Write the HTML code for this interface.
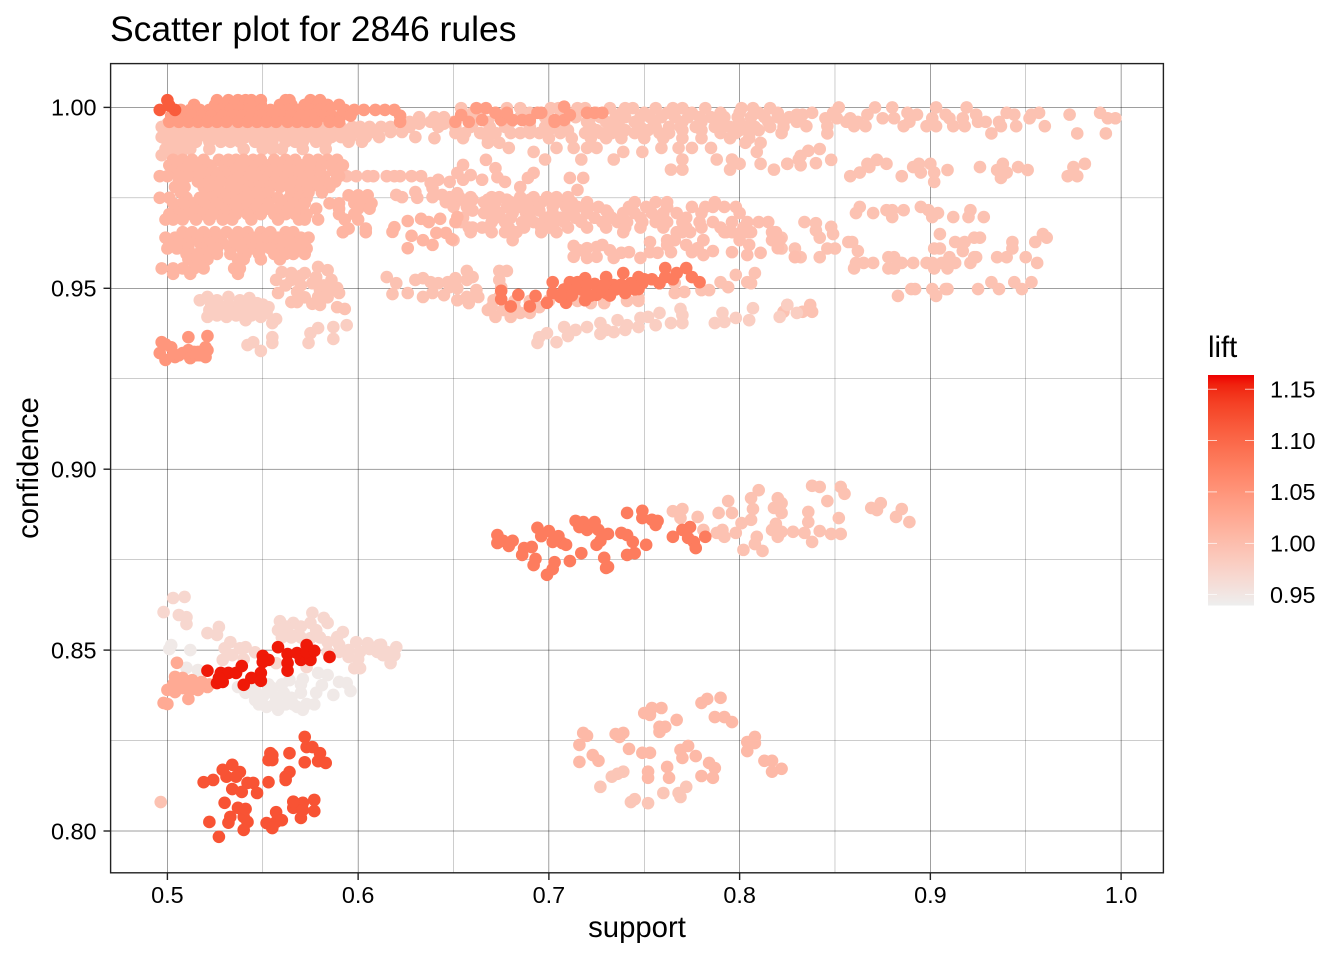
<!DOCTYPE html>
<html lang="en">
<head>
<meta charset="utf-8">
<title>Scatter plot for 2846 rules</title>
<style>
html,body{margin:0;padding:0;background:#fff;}
svg{display:block;font-family:"Liberation Sans",Arial,sans-serif;}
</style>
</head>
<body>
<svg id="chart" xmlns="http://www.w3.org/2000/svg" width="1344" height="960" viewBox="0 0 1344 960">
<rect width="1344" height="960" fill="#fff"/>
<g id="grid"></g>
<g id="points"></g>
<rect x="110.6" y="63.6" width="1052.8" height="809.2" fill="none" stroke="#222" stroke-width="1.4"/>
<g id="axes"></g>
<text x="110" y="41" font-size="35.5" fill="#000">Scatter plot for 2846 rules</text>
<text x="637" y="937" font-size="29.3" text-anchor="middle" fill="#000">support</text>
<text transform="translate(38,468) rotate(-90)" font-size="29.3" text-anchor="middle" fill="#000">confidence</text>
<g id="legend">
<text x="1208" y="357" font-size="29.3" fill="#000">lift</text>
</g>
</svg>
<script>
// Axis tick values
const xTicks = [0.5, 0.6, 0.7, 0.8, 0.9, 1.0];
const xMinorTicks = [0.55, 0.65, 0.75, 0.85, 0.95];
const yTicks = [0.80, 0.85, 0.90, 0.95, 1.00];
const yMinorTicks = [0.825, 0.875, 0.925, 0.975];
const liftTicks = [0.95, 1.00, 1.05, 1.10, 1.15];
const liftRange = [0.9393, 1.1636];

// Each row: [confidence, support, support, ...]
const topPaleRows = [
[.9955,.500,.632,.645,.660],
[.9946,.497,.502,.508,.512,.517,.522,.527,.532,.537,.542,.547,.552,.557,.562,.567,.572,.577,.582,.587,.591,.597,.601,.606,.612,.617],
[.9932,.499,.504,.509,.513,.519,.523,.529,.533,.539,.543,.549,.554,.559,.564,.569,.574,.579,.584,.589,.594,.599,.608,.617,.623],
[.9918,.497,.501,.506,.511,.516,.521,.526,.531,.536,.541,.546,.551,.556,.561,.566,.571,.576,.581,.586,.591,.596,.604,.611,.630],
[.9905,.500,.504,.510,.515,.522,.528,.533,.538,.546,.550,.555,.562,.567,.571,.578,.583,.595,.602],
[.9885,.499,.504,.508,.512,.522,.540,.550,.555,.560,.571,.583],
[.9868,.497,.503,.507],
[.9998,.654,.678,.685,.701,.705,.715,.719,.732,.740,.744,.756,.765,.770,.782,.801,.807,.816],
[.9985,.660,.672,.690,.710,.725,.738,.750,.762,.775,.790,.800,.810,.820],
[.9973,.632,.640,.645,.659,.664,.674,.685,.698,.706,.714,.722,.727,.735,.740,.748,.753,.759,.766,.773,.779,.785,.792,.799,.806,.813,.820,.826,.832],
[.996,.627,.638,.650,.668,.680,.690,.708,.720,.730,.745,.755,.770,.780,.790,.800,.815],
[.9946,.627,.642,.651,.659,.669,.677,.690,.698,.706,.722,.732,.737,.748,.756,.763,.769,.777,.787,.795,.803,.808,.816,.823],
[.9937,.700,.710,.725,.740,.752,.770,.780,.790,.800,.810],
[.9929,.651,.656,.664,.672,.680,.685,.690,.695,.706,.719,.727,.733,.745,.758,.763,.790,.798,.805,.822],
[.9915,.640,.655,.668,.700,.712,.722,.730,.738,.750,.760,.770,.780,.795,.805],
[.9902,.668,.674,.803,.811],
[.9888,.704,.713,.720,.725,.759,.775,.785,.768,.679],
[.9877,.692,.739,.749,.809],
[.9856,.698,.717,.734,.770,.788,.796,.831],
[.9844,.800,.811,.825],
[.9828,.764,.770,.795,.818],
[1.000,.852,.871,.880,.903,.919],
[.9985,.838,.849,.888,.940,.957,.989],
[.998,.830,.833,.867,.893,.908,.924,.944,.953,.973],
[.997,.845,.851,.858,.875,.881,.901,.910,.917,.952,.993,.997],
[.996,.823,.830,.856,.862,.889,.925,.929,.936],
[.9948,.835,.846,.860,.866,.886,.898,.903,.912,.918,.937,.945,.960],
[.9928,.846,.932,.977,.992],
[.9844,.825,.867,.877,.894,.900,.938,.981],
[.9866,.832],[.988,.836],[.9885,.842],[.984,.832],[.9846,.840],[.9855,.848,.872],
[.981,.858,.885,.972,.977],[.982,.863,.902,.895,.940],[.9835,.868,.891,.926,.946,.975],
[.9794,.902],[.9827,.909,.935,.951],[.9805,.937],
[.9725,.863,.895],[.9708,.861,.870,.904],[.9716,.877,.880,.886,.899,.921],[.9697,.880,.901,.912,.920,.928],
[.9683,.834],[.968,.840],[.967,.848],[.966,.840],[.965,.849,.905,.959],[.964,.842,.822,.923,.926,.961],
[.961,.822,.829,.902,.905,.846,.850,.943],[.9628,.857,.859,.913,.918,.955,.943],[.9603,.862,.917],
[.9586,.829,.832,.842,.878,.881,.910,.924,.923,.935,.940,.950],
[.957,.861,.865,.870,.885,.891,.898,.901,.906,.913,.921,.956],
[.9555,.860,.878,.881,.902,.909],
[.9479,.883,.903],[.9498,.890,.892,.901,.908,.909,.925,.936,.948],[.9517,.932,.944,.953],
[.9454,.825,.837],[.9435,.823,.833,.838]
];

const upperBandRows = [
[.9855,.503,.508,.513,.519,.527,.532,.536,.540,.545,.549,.556,.562,.567,.574,.579,.584,.589],
[.984,.501,.506,.511,.516,.522,.530,.534,.538,.543,.547,.552,.558,.564,.570,.576,.581,.586,.592],
[.9825,.503,.508,.513,.518,.524,.529,.535,.540,.545,.550,.555,.560,.565,.570,.575,.580,.587],
[.981,.496,.500,.506,.511,.516,.520,.526,.531,.538,.543,.548,.553,.558,.563,.569,.575,.582,.590],
[.9795,.506,.516,.522,.528,.534,.541,.546,.551,.556,.561,.566,.571,.577,.583,.588],
[.978,.504,.509,.519,.525,.533,.539,.543,.548,.554,.559,.564,.571,.575,.580,.585],
[.9765,.507,.521,.528,.535,.541,.547,.553,.565,.569,.574,.581],
[.975,.496,.501,.510,.517,.523,.530,.534,.540,.546,.551,.558,.564,.569,.573],
[.9735,.503,.508,.514,.519,.525,.531,.537,.543,.548,.553,.560,.566,.572],
[.972,.504,.509,.514,.522,.529,.535,.541,.546,.552,.558,.564,.570],
[.9705,.501,.506,.512,.518,.524,.530,.536,.542,.549,.556,.562,.567,.573,.590,.598],
[.969,.499,.503,.508,.515,.522,.529,.534,.544,.558,.569,.572,.579,.593,.600],
[.9655,.508,.513,.519,.525,.531,.537,.542,.549,.554,.562,.566,.592],
[.964,.499,.504,.509,.516,.522,.528,.535,.540,.546,.552,.558,.564,.570,.574],
[.9625,.501,.506,.511,.517,.523,.529,.535,.541,.547,.553,.559,.565,.571],
[.961,.500,.505,.511,.518,.526,.533,.539,.545,.549,.554,.560,.568,.573],
[.9595,.510,.516,.521,.526,.533,.541,.548,.556,.562,.566,.572],
[.958,.511,.516,.521,.537,.540,.549,.559],
[.9555,.497,.503,.508,.514,.519,.535,.538],
[.954,.503,.512,.537],
[.9757,.595,.600,.605],[.9735,.585,.590,.598,.603,.607],[.972,.578,.590,.600,.606],[.9665,.595,.604],[.9655,.592,.604],
[.9669,.619],[.9656,.618],[.9686,.626],[.9692,.633,.643],[.9683,.637,.651],[.9645,.628],[.9633,.634],[.9653,.641,.646],[.9636,.649],[.9611,.626],[.962,.639],[.9697,.652]
];

const midTailRows = [
[.981,.589,.594,.599,.605,.608,.615,.619,.622,.628,.633],
[.9758,.620,.644],[.9752,.623,.639],[.9766,.630],[.975,.631],[.9777,.639],[.98,.642],[.9791,.638],[.9744,.649],[.9763,.652],
[.9841,.655],[.9855,.667],[.9819,.652,.692],[.9813,.659],[.98,.655,.665],[.9794,.648,.677],[.9832,.672],[.9807,.673],[.9805,.689,.711,.718],[.978,.685],[.9772,.715],
[.9752,.648,.653,.659,.670,.674,.685,.692,.699,.704,.710],
[.9745,.650,.660,.668,.678,.690,.700,.710],
[.9738,.646,.651,.657,.666,.672,.680,.688,.696,.704,.712,.720,.745,.756,.762,.787],
[.9725,.650,.657,.671,.678,.685,.693,.702,.709,.715,.721,.726,.742,.751,.762,.775,.782,.786,.792,.798],
[.9715,.660,.670,.690,.695,.710,.720,.730],
[.9708,.666,.674,.681,.688,.702,.711,.720,.731,.739,.754,.767,.780,.800,.745,.760],
[.9695,.655,.672,.680,.690,.698,.706,.714,.724,.733,.748,.760,.772],
[.9683,.654,.652,.670,.677,.686,.692,.697,.703,.708,.717,.728,.736,.741,.749,.756,.762,.770,.779,.786,.796,.804,.810,.815],
[.9668,.658,.660,.665,.668,.679,.687,.696,.700,.710,.720,.730,.740,.748,.760,.772,.780,.790,.802],
[.9655,.659,.670,.677,.683,.696,.704,.739,.767,.774,.770,.792,.801,.804,.793,.796,.806,.819,.817],
[.9633,.650,.681,.762,.800,.781,.817,.821,.766],
[.9617,.713],[.9587,.713,.725],[.9611,.720,.778,.820],[.9584,.720,.734,.748],[.9614,.725],[.962,.728,.762,.772,.805],[.9598,.738,.757,.811],[.96,.742,.753,.775],
[.9628,.753],[.9633,.781],[.9592,.781,.804],[.9603,.786],[.9587,.829],[.9605,.716,.732],[.96,.764,.796]
];

const lowerBandRows = [
[.9531,.615,.660],[.9514,.620,.642],[.9484,.618],[.9487,.626,.639],[.9523,.630,.651,.657,.674],[.9528,.634,.651],[.9517,.638,.647],[.9476,.634,.657,.663,.674],[.9481,.645],[.9467,.652,.671],[.95,.652],
[.9548,.657,.674,.678],[.9503,.675,.648],[.9459,.658],[.9495,.662],[.944,.668,.676],[.9421,.672,.680],[.9432,.685,.690],[.9448,.682,.670,.695],
[.9465,.682,.690,.700,.715,.722,.729,.741,.747],[.9476,.715],[.9459,.722,.729],[.9467,.741],[.9473,.747],[.9467,.700],
[.9515,.766],[.9487,.766],[.949,.771],[.9495,.780,.784],[.9517,.790,.804],[.9503,.794],[.9537,.798],[.9542,.808],[.9514,.806],
[.9545,.560],[.9542,.565,.572],[.9523,.557,.565,.586],[.9559,.579],[.955,.584],[.9531,.578],[.9514,.576],[.9501,.589],[.9495,.580,.586],[.9487,.590,.558],[.949,.568],[.9462,.565,.568],[.9457,.576],[.9454,.580],[.9476,.579],[.9448,.589],[.9443,.593],
[.9475,.572,.584],[.9508,.562,.570,.582],[.9535,.570]
];

const paleRows = [
[.9476,.521,.532],[.9467,.517,.526,.538],[.9473,.543],[.9459,.547],[.9448,.553,.529,.534],[.944,.527,.536,.542,.547,.522,.532],[.9421,.531,.549,.521],[.9412,.541],[.9432,.545,.552,.540],[.9404,.555],[.9415,.557],
[.9455,.523,.538,.543,.550],[.9425,.526,.536,.544],
[.9393,.720,.747],[.9404,.727,.764,.770,.787],[.9374,.727],[.9379,.734],[.9412,.736,.805],[.9398,.741,.756],[.9418,.748,.798],[.9421,.752,.821],[.9432,.758,.791,.830],[.9443,.769],[.9426,.770],[.9407,.792],[.9445,.807],[.9454,.825],
[.9393,.708],[.9368,.710],[.9376,.699],[.9349,.694],[.9351,.704],[.9365,.695],[.9385,.714,.730,.740],
[.9343,.542],[.9351,.545],[.9327,.549],[.9365,.555],[.9349,.555,.574],[.9376,.575],[.939,.579],[.9393,.587],[.9398,.594],[.936,.587]
];

const topSalmonRows = [
[1.002,.526,.532,.537,.541,.544,.549,.562,.564,.575,.580],
[1.0007,.514,.525,.530,.535,.543,.549,.559,.565,.572,.579,.584,.590],
[.9993,.507,.512,.517,.522,.528,.533,.538,.543,.549,.554,.559,.564,.569,.575,.580,.585,.593,.598,.603,.609,.614,.619],
[.9977,.502,.508,.513,.518,.523,.529,.534,.539,.544,.549,.555,.560,.565,.570,.575,.581,.586,.591,.596,.622],
[.996,.501,.506,.511,.516,.521,.526,.531,.537,.542,.547,.552,.557,.563,.568,.573,.578,.585,.590,.622],
[.9979,.654],[.996,.651,.658],[.9998,.662,.667],[.9965,.665,.675],[.9985,.672,.678,.694,.696,.720,.724,.728],
[.9965,.681,.686,.690,.703,.708],[.9979,.711],[.996,.703],[1.0002,.708]
];

const salmonBlockRows = [
[.9351,.497],[.9321,.496,.508],[.9302,.499],[.9337,.502,.520],[.931,.504,.520],[.9365,.511],[.9329,.511,.521],[.9307,.512],[.9324,.514,.516],[.9368,.521],[.9345,.499],[.9315,.503,.506,.515,.517]
];

const redCornerRows = [
[1.002,.5],[.9993,.496,.504],[1.0005,.501]
];

const salmonRedRows = [
[.9493,.675],[.947,.675],[.945,.680],[.9482,.684],[.945,.690],[.9479,.693],[.946,.699,.709],[.9517,.702,.711,.715],[.9487,.702,.730,.740],[.9476,.706],[.9528,.719],[.9495,.718],[.9467,.719],[.9512,.724],[.9482,.725],[.9531,.730,.747,.761,.775],[.9509,.734],[.9542,.739,.767],[.9514,.743,.749,.758],[.9498,.747],[.9525,.754],[.9556,.761,.772],[.9517,.779],
[.9497,.708,.714,.728,.735,.745],[.948,.712,.722,.732],[.951,.720,.729,.738],[.9525,.750,.765]
];

const midSalmonRows = [
[.8818,.673],[.8796,.673],[.8802,.676,.681],[.8788,.679],[.8763,.686],[.8782,.687],[.8785,.691],[.8838,.694],[.8815,.696,.705],[.8829,.700],[.8752,.693],[.8735,.692],[.8743,.703],[.8724,.702],[.8708,.699],[.8799,.702],[.8796,.707],[.8791,.709],[.8746,.711],[.8768,.717],[.8857,.714],[.8854,.718],[.884,.716],[.8832,.720],[.8854,.724],[.8832,.726],[.8791,.725],[.8802,.727],[.8821,.731],[.8755,.729],[.8727,.730],[.873,.731],[.8824,.738],[.8818,.741],[.8799,.744],[.8763,.741],[.8768,.745],[.8791,.751],[.8879,.741],[.8885,.749],[.8865,.749],[.886,.754],[.8857,.757],[.8846,.756],[.8813,.765],[.8832,.770],[.884,.774],[.881,.773],[.8799,.776],[.8813,.782],[.8782,.777]
];

const midPaleRows = [
[.8884,.765],[.889,.770,.807,.885],[.8865,.769,.852],[.8868,.778,.882],[.8832,.781,.791,.817],[.8824,.788,.798,.834],[.8813,.792,.809,.820],[.8879,.789,.796,.822],[.8912,.794,.846],[.8777,.802],[.8851,.801],[.886,.806],[.892,.806,.820],[.8942,.810],[.8793,.808],[.8774,.812],[.8906,.822,.874],[.8893,.818,.869],[.8849,.819],[.8827,.822,.828],[.8882,.836],[.8854,.836,.889],[.8799,.838],[.8829,.842],[.8821,.848,.853],[.8954,.838],[.8951,.842,.853],[.8932,.855],[.8887,.872]
];

const lowSalmonRows = [
[.8354,.780],[.8365,.783],[.8368,.790],[.8315,.787,.792],[.8301,.796],[.8246,.804],[.826,.808,.737],[.8243,.808],[.8221,.804],[.8194,.813,.817],[.8172,.822],[.8164,.817,.752],
[.8326,.750],[.834,.754,.759],[.8321,.753],[.8307,.767],[.8288,.758,.761],[.8274,.758],[.8268,.735],[.8271,.739,.718],[.8263,.720],[.8238,.716],[.8227,.742],[.8216,.749,.753],[.821,.723],[.8194,.726],[.8191,.716],[.8224,.769],[.8235,.773],[.8207,.777],[.8202,.770],[.8188,.784],[.8174,.787],[.8177,.762],[.8147,.752,.763,.786],[.8152,.780]
];

const lowPaleRows = [
[.8164,.739],[.8158,.736],[.815,.733],[.8122,.727,.772],[.8105,.768,.760],[.8094,.769],[.8088,.745],[.808,.743],[.8077,.752]
];

const softPinkRows = [
[.8644,.503],[.8647,.509],[.8605,.498],[.8597,.506],[.8591,.510],[.8572,.510],[.8547,.521],[.8564,.527],[.8542,.526],
[.858,.559],[.8575,.566,.584,.575],[.855,.563,.592],[.8603,.576],[.8589,.582],[.8542,.568],[.8533,.575],[.8536,.589],[.8522,.584,.599,.533],[.8519,.605],[.8514,.611],[.8508,.620,.541],[.85,.595],[.8495,.601],[.8503,.606],[.8486,.613,.619,.534],[.8464,.617,.557],[.8481,.595],[.845,.598,.601],[.8494,.546],[.8473,.529],[.8453,.573],
[.8565,.570,.562],[.8555,.558,.578],[.8535,.560,.565,.570,.580],[.8515,.590,.612],[.8495,.584,.590,.610,.615],[.8475,.600,.540],[.8505,.530,.538]
];

const greyRows = [
[.8503,.501],[.8514,.502],[.85,.512],[.8398,.537],[.839,.546],[.8395,.555],[.8362,.546],[.8371,.550],[.8368,.557,.565],[.8343,.552,.568],[.8335,.558,.571],[.8351,.573],[.8417,.564],[.842,.571],[.8437,.579],[.8431,.584],[.8403,.581],[.8412,.590],[.8409,.594],[.8387,.596],[.8376,.587],[.8451,.510],[.8445,.516],
[.8405,.545,.553,.560,.570],[.8382,.541,.552,.561,.570,.578],[.835,.548,.556,.562,.566,.577]
];

const leftSalmonRows = [
[.8465,.505],[.8426,.504],[.8423,.508],[.8417,.513],[.8412,.518],[.839,.500,.512,.516],[.8384,.504],[.8395,.508],[.8398,.521],[.8354,.498],[.8351,.500],[.8365,.511],[.8405,.503,.510,.515,.522]
];

const redRows = [
[.8443,.521],[.8437,.528,.532,.536,.549],[.8456,.539],[.8409,.526],[.8412,.529],[.8423,.527,.544],[.8404,.540],[.8415,.549],[.8484,.550],[.8473,.553,.570,.575],[.8467,.550],[.8508,.558],[.8489,.563],[.8464,.563],[.8443,.563],[.8492,.568],[.8514,.573],[.8495,.573],[.8498,.577],[.8481,.585]
];

const lowRedRows = [
[.826,.572],[.8232,.573,.576],[.8215,.580,.564,.554],[.8193,.579],[.8188,.583],[.819,.572],[.821,.555],[.8196,.553,.555],[.8163,.564,.538],[.815,.562,.531,.536],[.8141,.562,.524],[.8135,.553,.519],[.8169,.529],[.8183,.534],[.8133,.542,.545],[.8116,.534],[.8108,.539],[.8105,.547],[.8078,.530,.571],[.8025,.522,.542,.557],[.8039,.533,.540],[.8023,.532],[.7984,.527],[.8064,.537,.566],[.8061,.541],[.8003,.540],[.8022,.552],[.8052,.557],[.8008,.555],[.803,.560],[.8081,.566],[.8036,.570],[.8058,.571],[.8086,.577],[.8055,.577]
];

const singlePaleRows = [
[.808,.4965]
];

// Lift of each cluster, in drawing order
const clusterRows = [topPaleRows, midTailRows, upperBandRows, lowerBandRows, paleRows, softPinkRows, greyRows, singlePaleRows, midPaleRows, lowSalmonRows, lowPaleRows, topSalmonRows, salmonBlockRows, redCornerRows, salmonRedRows, midSalmonRows, leftSalmonRows, lowRedRows, redRows];
const clusterLifts = [0.995, 0.999, 1.01, 0.995, 0.98, 0.968, 0.946, 0.995, 0.995, 1.006, 0.99, 1.04, 1.048, 1.112, 1.078, 1.078, 1.024, 1.12, 1.158];

const NS = 'http://www.w3.org/2000/svg';
function xScale(v){ return 167.4 + (v - 0.5) * 1907.4; }
function yScale(v){ return 107.4 + (1 - v) * 3618; }
function liftY(v){ return 543.3 - (v - 1) * 1027.5; }

function srgb2lin(c){ c/=255; return c<=0.04045 ? c/12.92 : Math.pow((c+0.055)/1.055,2.4); }
function lin2srgb(c){ c = c<=0.0031308 ? 12.92*c : 1.055*Math.pow(c,1/2.4)-0.055; return Math.max(0,Math.min(255,Math.round(c*255))); }
function toLab(r,g,b){
  const R=srgb2lin(r),G=srgb2lin(g),B=srgb2lin(b);
  const f=t=>t>0.008856?Math.cbrt(t):7.787*t+16/116;
  const X=f((0.4124*R+0.3576*G+0.1805*B)/0.95047),Y=f(0.2126*R+0.7152*G+0.0722*B),Z=f((0.0193*R+0.1192*G+0.9505*B)/1.08883);
  return [116*Y-16,500*(X-Y),200*(Y-Z)];
}
function fromLab(L,a,b){
  const Y=(L+16)/116,X=a/500+Y,Z=Y-b/200;
  const f=t=>t*t*t>0.008856?t*t*t:(t-16/116)/7.787;
  const x=f(X)*0.95047,y=f(Y),z=f(Z)*1.08883;
  return 'rgb('+lin2srgb(3.2406*x-1.5372*y-0.4986*z)+','+lin2srgb(-0.9689*x+1.8758*y+0.0415*z)+','+lin2srgb(0.0557*x-0.2040*y+1.0570*z)+')';
}
const lowLab = toLab(238,238,238);
const highLab = toLab(238,0,0);
function liftColor(v){
  const t = Math.max(0, Math.min(1, (v - liftRange[0]) / (liftRange[1] - liftRange[0])));
  return fromLab(lowLab[0]+(highLab[0]-lowLab[0])*t, lowLab[1]+(highLab[1]-lowLab[1])*t, lowLab[2]+(highLab[2]-lowLab[2])*t);
}
function make(tag, attrs, parent){
  const el = document.createElementNS(NS, tag);
  for (const k in attrs) el.setAttribute(k, attrs[k]);
  parent.appendChild(el);
  return el;
}

const grid = document.getElementById('grid');
xMinorTicks.forEach(function(t){
  const el = make('line', {x1:xScale(t), x2:xScale(t), y1:64, y2:873, stroke:'#000', 'stroke-width':0.2}, grid);
  
  
});
yMinorTicks.forEach(function(t){
  const el = make('line', {x1:111, x2:1163, y1:yScale(t), y2:yScale(t), stroke:'#000', 'stroke-width':0.2}, grid);
  
  
});
xTicks.forEach(function(t){
  const el = make('line', {x1:xScale(t), x2:xScale(t), y1:64, y2:873, stroke:'#000', 'stroke-width':0.38}, grid);
  
  
});
yTicks.forEach(function(t){
  const el = make('line', {x1:111, x2:1163, y1:yScale(t), y2:yScale(t), stroke:'#000', 'stroke-width':0.38}, grid);
  
  
});

const pointsLayer = document.getElementById('points');
clusterRows.forEach(function(rows, i){
  const fill = liftColor(clusterLifts[i]);
  rows.forEach(function(row){
    for (let j = 1; j < row.length; j++){
      const c = make('circle', {cx:xScale(row[j]), cy:yScale(row[0]), r:6.3, fill:fill}, pointsLayer);
      
      
    }
  });
});

const axes = document.getElementById('axes');
xTicks.forEach(function(t){
  const tick = make('line', {x1:xScale(t), x2:xScale(t), y1:873, y2:880, stroke:'#222', 'stroke-width':1.4}, axes);
  
  
  const lab = make('text', {x:xScale(t), y:903, 'font-size':23.4, 'text-anchor':'middle', fill:'#000'}, axes);
  
  
  lab.textContent = t.toFixed(1);
});
yTicks.forEach(function(t){
  const tick = make('line', {x1:103.5, x2:110, y1:yScale(t), y2:yScale(t), stroke:'#222', 'stroke-width':1.4}, axes);
  
  
  const lab = make('text', {x:96.5, y:yScale(t)+8.3, 'font-size':23.4, 'text-anchor':'end', fill:'#000'}, axes);
  
  
  lab.textContent = t.toFixed(2);
});

const legend = document.getElementById('legend');
const defs = make('defs', {}, legend);
const grad = make('linearGradient', {id:'liftGradient', x1:0, y1:0, x2:0, y2:1}, defs);
for (let i = 0; i <= 24; i++){
  make('stop', {offset:(i/24), 'stop-color':liftColor(liftRange[1] - (liftRange[1]-liftRange[0])*i/24)}, grad);
}
const bar = make('rect', {x:1208, y:375, width:46, height:230.5, fill:'url(#liftGradient)'}, legend);


liftTicks.forEach(function(t){
  const y = liftY(t);
  const a = make('line', {x1:1208, x2:1217, y1:y, y2:y, stroke:'#fff', 'stroke-width':0.7}, legend);
  
  
  const b = make('line', {x1:1245, x2:1254, y1:y, y2:y, stroke:'#fff', 'stroke-width':0.7}, legend);
  
  
  const lab = make('text', {x:1270, y:y+8.3, 'font-size':23.4, fill:'#000'}, legend);
  
  
  lab.textContent = t.toFixed(2);
});
</script>
</body>
</html>
